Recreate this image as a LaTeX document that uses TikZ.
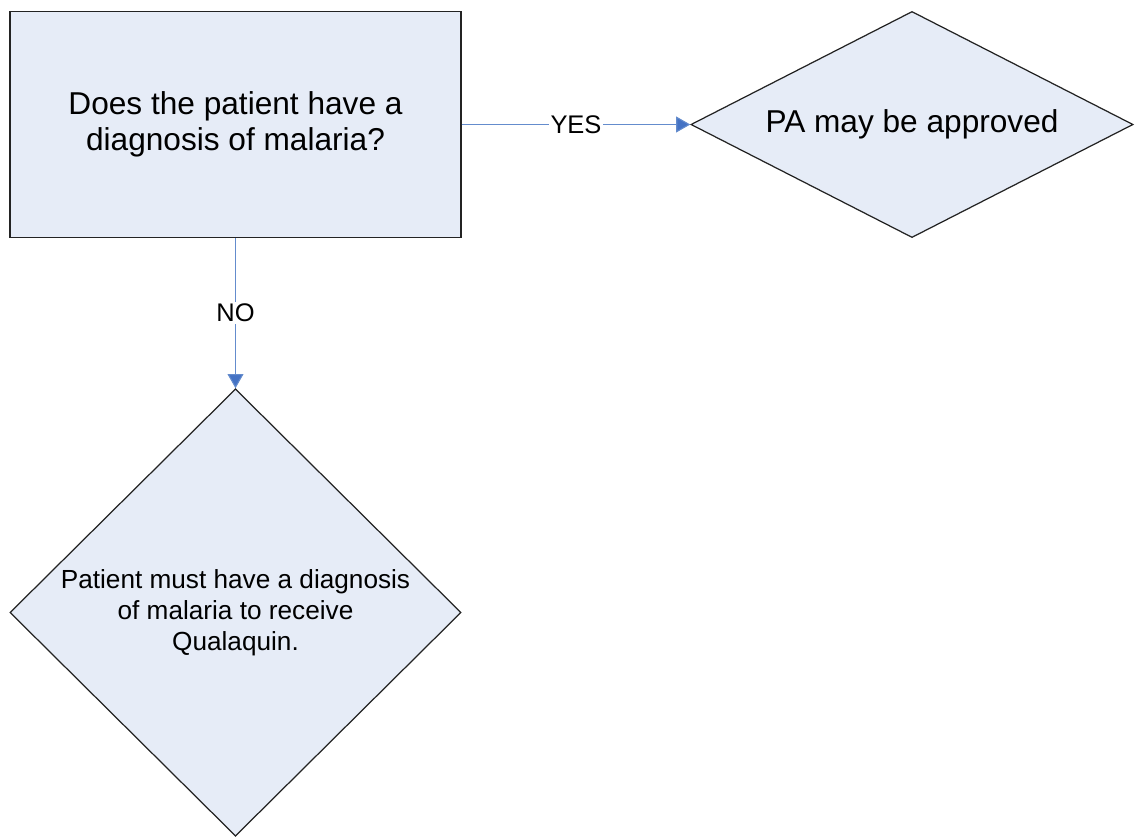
\documentclass[tikz,border=0pt]{standalone}
\usepackage{fontspec}
\setmainfont{Liberation Sans}
\usetikzlibrary{shapes.geometric,arrows.meta}
\definecolor{boxfill}{RGB}{230,236,247}
\definecolor{arrowblue}{RGB}{68,114,196}
\definecolor{lineblue}{RGB}{100,140,205}
\definecolor{edgegray}{RGB}{35,35,35}
\begin{document}
\begin{tikzpicture}[x=0.02cm, y=-0.02cm,
    frage/.style={rectangle, draw=edgegray, fill=boxfill, line width=0.7pt,
        minimum width=256.8pt, minimum height=128.7pt, inner sep=0pt,
        align=center, font=\fontsize{18}{20.5}\selectfont},
    raute/.style={diamond, draw=edgegray, fill=boxfill, line width=0.7pt,
        inner sep=0pt, align=center},
    verbindung/.style={draw=lineblue, line width=0.6pt,
        -{Triangle[length=8pt, width=9pt, fill=arrowblue]}},
    antwort/.style={midway, fill=white, inner sep=1pt, font=\fontsize{14.5}{16}\selectfont}]
        \useasboundingbox (0,0) rectangle (1135,839);

        % Frage
        \node[frage] (Q) at (235.5,124.5) {Does the patient have a\\diagnosis of malaria?};

        % Ergebnis ja
        \node[raute, aspect=1.96, minimum width=251.7pt, minimum height=128.7pt,
            font=\fontsize{18}{20.5}\selectfont] (Y) at (912,124.5) {PA may be approved};

        % Ergebnis nein
        \node[raute, minimum width=256.8pt, minimum height=254.6pt,
            font=\fontsize{14.9}{17.6}\selectfont] (N) at (235.5,612.5)
            {Patient must have a diagnosis\\of malaria to receive\\Qualaquin.};

        % Verbindungen
        \draw[verbindung] (Q) -- (Y) node[antwort] {YES};
        \draw[verbindung] (Q) -- (N) node[antwort] {NO};
    \end{tikzpicture}
\end{document}
